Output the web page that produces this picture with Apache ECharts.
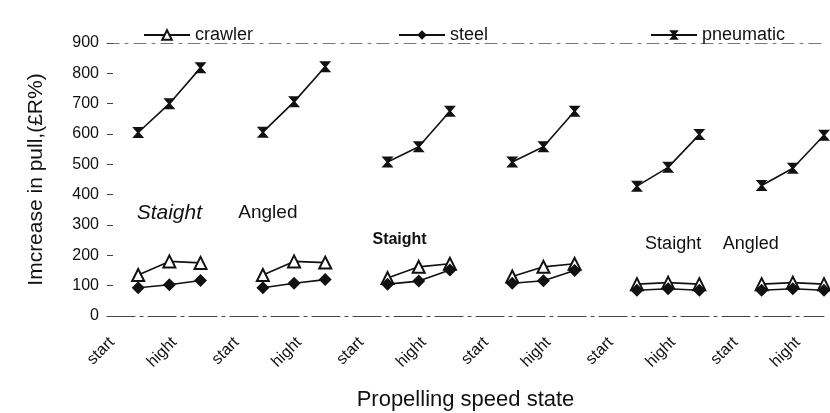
<!DOCTYPE html>
<html>
<head>
<meta charset="utf-8">
<title>Increase in pull</title>
<script src="https://cdn.jsdelivr.net/npm/echarts@6/dist/echarts.min.js"></script>
<style>
    html, body { margin: 0; padding: 0; background: #fff; }
    #chart { width: 830px; height: 413px; }
</style>
</head>
<body>
<div id="chart"></div>
<script>
// Tick labels of one group: gap slot, low, middle, high
const groupTicks = ['start', '', 'hight', ''];
const groupCount = 6;

// Values per group (3 speed states each)
const crawler = [
    [135, 180, 175], [135, 180, 176], [125, 162, 172],
    [130, 162, 172], [105, 110, 105], [105, 110, 105]
];
const steel = [
    [93, 103, 117], [93, 108, 120], [105, 115, 152],
    [108, 116, 150], [85, 90, 85], [85, 90, 85]
];
const pneumatic = [
    [605, 700, 818], [606, 706, 822], [508, 558, 675],
    [508, 558, 675], [428, 490, 598], [430, 487, 596]
];

// Group notes: text, slot, value
const notes = [
    { text: 'Staight', slot: 2, value: 339 },
    { text: 'Angled', slot: 5, value: 339 },
    { text: 'Staight', slot: 9, value: 253 },
    { text: 'Staight', slot: 18, value: 236 },
    { text: 'Angled', slot: 21, value: 236 }
];

const FONT = '"Liberation Sans", Arial, sans-serif';

// one gap slot before every group of three points
function toSlots(groups) {
    const out = [];
    groups.forEach(g => { out.push(null, ...g); });
    return out;
}

const categories = [];
for (let i = 0; i < groupCount; i++) categories.push(...groupTicks);

const noteStyles = [
    { fontSize: 21, fontStyle: 'italic', offset: [0, 0] },
    { fontSize: 19, fontStyle: 'normal', offset: [5, 0] },
    { fontSize: 16, fontStyle: 'normal', fontWeight: 'bold', offset: [12, 0] },
    { fontSize: 18, fontStyle: 'normal', offset: [5, 0] },
    { fontSize: 18, fontStyle: 'normal', offset: [-11, 0] }
];

const hourglass = 'path://M0,0 L10,0 L6,5 L10,10 L0,10 L4,5 Z';

const chart = echarts.init(document.getElementById('chart'));

const legendBase = {
    top: 21,
    itemWidth: 46,
    itemHeight: 12,
    itemGap: 4,
    textStyle: { fontFamily: FONT, fontSize: 18, color: '#111' }
};

const option = {
    animation: false,
    backgroundColor: '#fff',
    textStyle: { fontFamily: FONT },
    grid: { left: 107, right: 6, top: 43, bottom: 97, outerBoundsMode: 'none' },
    legend: [
        Object.assign({ left: 138, data: ['crawler'] }, legendBase),
        Object.assign({ left: 393, data: ['steel'] }, legendBase),
        Object.assign({ left: 645, data: ['pneumatic'] }, legendBase)
    ],
    xAxis: [{
        type: 'category',
        data: categories,
        boundaryGap: false,
        name: 'Propelling speed state',
        nameLocation: 'middle',
        nameGap: 73,
        nameTextStyle: { fontSize: 22, color: '#111' },
        axisLine: { lineStyle: { color: '#444', width: 1, type: [28, 5, 3, 5] } },
        axisTick: { show: false },
        axisLabel: {
            interval: 0,
            rotate: 45,
            margin: 29,
            fontSize: 16,
            color: '#111',
            padding: [0, -7, 0, 0]
        },
        splitLine: { show: false }
    }, {
        type: 'category',
        data: categories,
        boundaryGap: false,
        position: 'top',
        axisLine: { lineStyle: { color: '#777', width: 1, type: [12, 6, 3, 6] } },
        axisTick: { show: false },
        axisLabel: { show: false }
    }],
    yAxis: {
        type: 'value',
        min: 0,
        max: 900,
        interval: 100,
        name: 'Imcrease in pull,(£R%)',
        nameLocation: 'middle',
        nameGap: 60,
        nameTextStyle: { fontSize: 21, color: '#111' },
        axisLine: { show: false },
        axisTick: { show: true, inside: true, length: 6, lineStyle: { color: '#444' } },
        axisLabel: { fontSize: 16, color: '#111', margin: 8 },
        splitLine: { show: false }
    },
    series: [{
        name: 'crawler',
        type: 'line',
        data: toSlots(crawler),
        symbol: 'triangle',
        symbolSize: 12,
        lineStyle: { color: '#111', width: 1.6 },
        itemStyle: { color: '#fff', borderColor: '#111', borderWidth: 2 }
    }, {
        name: 'steel',
        type: 'line',
        data: toSlots(steel),
        symbol: 'diamond',
        symbolSize: 13,
        lineStyle: { color: '#111', width: 1.6 },
        itemStyle: { color: '#111' }
    }, {
        name: 'pneumatic',
        type: 'line',
        data: toSlots(pneumatic),
        symbol: hourglass,
        symbolSize: [12, 11],
        lineStyle: { color: '#111', width: 1.6 },
        itemStyle: { color: '#111' }
    }, {
        name: 'notes',
        type: 'scatter',
        symbolSize: 1,
        itemStyle: { color: '#fff', opacity: 1 },
        silent: true,
        data: notes.map((n, i) => ({
            value: [n.slot, n.value],
            label: Object.assign({
                show: true,
                position: 'inside',
                formatter: n.text,
                color: '#111',
                textBorderWidth: 0,
                fontFamily: FONT
            }, noteStyles[i])
        }))
    }]
};

chart.setOption(option);
</script>
</body>
</html>
